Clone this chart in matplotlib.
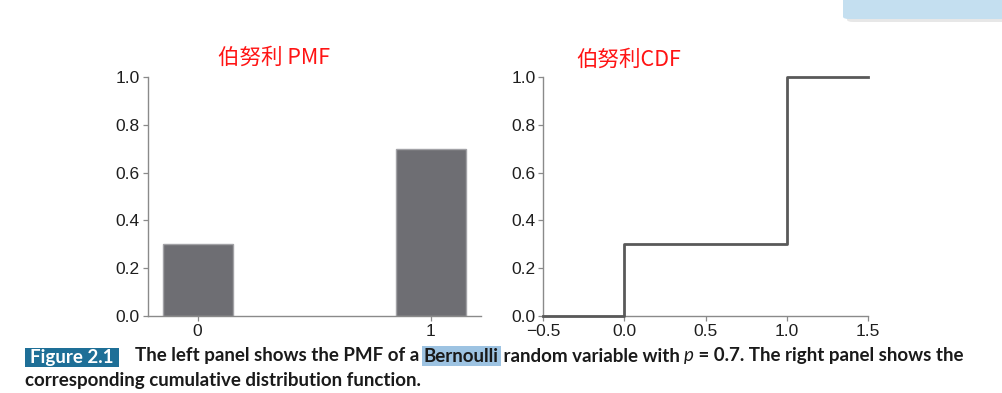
import numpy as np
import matplotlib
matplotlib.use('Agg')
from matplotlib import pyplot as plt
from matplotlib.patches import Rectangle, FancyBboxPatch
from matplotlib.text import Annotation

# Bernoulli p = 0.7
outcomes = [0, 1]
pmf_values = [0.3, 0.7]
cdf_x = [-0.5, 0.0, 1.0, 1.5]
cdf_y = [0.0, 0.3, 1.0, 1.0]
y_ticks = [0.0, 0.2, 0.4, 0.6, 0.8, 1.0]
cdf_x_ticks = [-0.5, 0.0, 0.5, 1.0, 1.5]

title_left = '伯努利 PMF'
title_right = '伯努利CDF'
caption_label = 'Figure 2.1'
caption_parts = ['The left panel shows the PMF of a ', 'Bernoulli', ' random variable with ', 'p',
                 ' = 0.7. The right panel shows the']
caption_line2 = 'corresponding cumulative distribution function.'

plt.rcParams['font.family'] = ['Liberation Sans', 'DejaVu Sans']

W, H = 1002, 393
fig = plt.figure(figsize=(W / 100, H / 100), dpi=100)


def px(x0, y0, x1, y1):
    # pixel box (top-left origin) -> figure fraction rect
    return [x0 / W, 1 - y1 / H, (x1 - x0) / W, (y1 - y0) / H]


def style_axes(ax):
    for s in ['top', 'right']:
        ax.spines[s].set_visible(False)
    for s in ['left', 'bottom']:
        ax.spines[s].set_color('#8a8a8a')
        ax.spines[s].set_linewidth(1.0)
    ax.tick_params(direction='out', length=3.5, width=0.9, color='#8a8a8a',
                   labelsize=12.5, labelcolor='#1e1e1e', pad=2)
    ax.set_ylim(0, 1)
    ax.set_yticks(y_ticks)
    ax.set_yticklabels(['{:.1f}'.format(v) for v in y_ticks])


ax1 = fig.add_axes(px(147.5, 77, 481, 316))
ax1.bar(outcomes, pmf_values, width=0.3, color='#6e6e73', edgecolor='#a2a2a6', linewidth=1.0)
ax1.set_xlim(-0.215, 1.215)
ax1.set_xticks(outcomes)
style_axes(ax1)

ax2 = fig.add_axes(px(543.3, 77, 868, 316))
ax2.plot(cdf_x, cdf_y, drawstyle='steps-post', color='#595959', linewidth=2.0, clip_on=False, zorder=3)
ax2.set_xlim(-0.5, 1.5)
ax2.set_xticks(cdf_x_ticks)
ax2.set_xticklabels(['\u22120.5', '0.0', '0.5', '1.0', '1.5'])
style_axes(ax2)

cjk = ['Noto Sans CJK SC', 'DejaVu Sans']
fig.text(274 / W, 1 - 58 / H, title_left, color='#ff1414', fontsize=15.5, family=cjk, ha='center', va='center')
fig.text(629 / W, 1 - 60 / H, title_right, color='#ff1414', fontsize=15.5, family=cjk, ha='center', va='center')

# screenshot overlay in top-right corner
fig.patches.append(FancyBboxPatch((845 / W + 0.002, 1 - 22 / H), 0.2, 0.1,
                                  boxstyle='round,pad=0,rounding_size=0.006',
                                  transform=fig.transFigure, facecolor='#d8d8d8', edgecolor='none',
                                  alpha=0.6, zorder=0))
fig.patches.append(FancyBboxPatch((843 / W, 1 - 19 / H), 0.2, 0.1,
                                  boxstyle='round,pad=0,rounding_size=0.006',
                                  transform=fig.transFigure, facecolor='#c4dff0', edgecolor='none', zorder=1))

# caption
cap_font = ['Lato', 'DejaVu Sans']
cap_size = 13.5
fig.patches.append(Rectangle((25 / W, 1 - 367 / H), 94 / W, 19 / H, transform=fig.transFigure,
                             facecolor='#1e6f97', edgecolor='none'))
fig.text(72 / W, 1 - 357.5 / H, caption_label, color='white', fontsize=13.5, fontweight='bold',
         family=cap_font, ha='center', va='center')

prev = fig.text(135 / W, 1 - 364.5 / H, caption_parts[0], color='#1a1a1a', fontsize=cap_size,
                fontweight='bold', family=cap_font, ha='left', va='bottom')
for part in caption_parts[1:]:
    kw = dict(color='#1a1a1a', fontsize=cap_size, fontweight='bold', family=cap_font,
              ha='left', va='bottom', annotation_clip=False)
    if part == 'Bernoulli':
        kw['bbox'] = dict(boxstyle='square,pad=0.1', facecolor='#9dc3e2', edgecolor='none')
    if part == 'p':
        kw['style'] = 'italic'
        kw['fontweight'] = 'normal'
    ann = Annotation(part, xy=(1, 0), xycoords=prev, **kw)
    fig.add_artist(ann)
    prev = ann

fig.text(25 / W, 1 - 389 / H, caption_line2, color='#1a1a1a', fontsize=cap_size, fontweight='bold',
         family=cap_font, ha='left', va='bottom')

fig.savefig('out.png', dpi=100)
